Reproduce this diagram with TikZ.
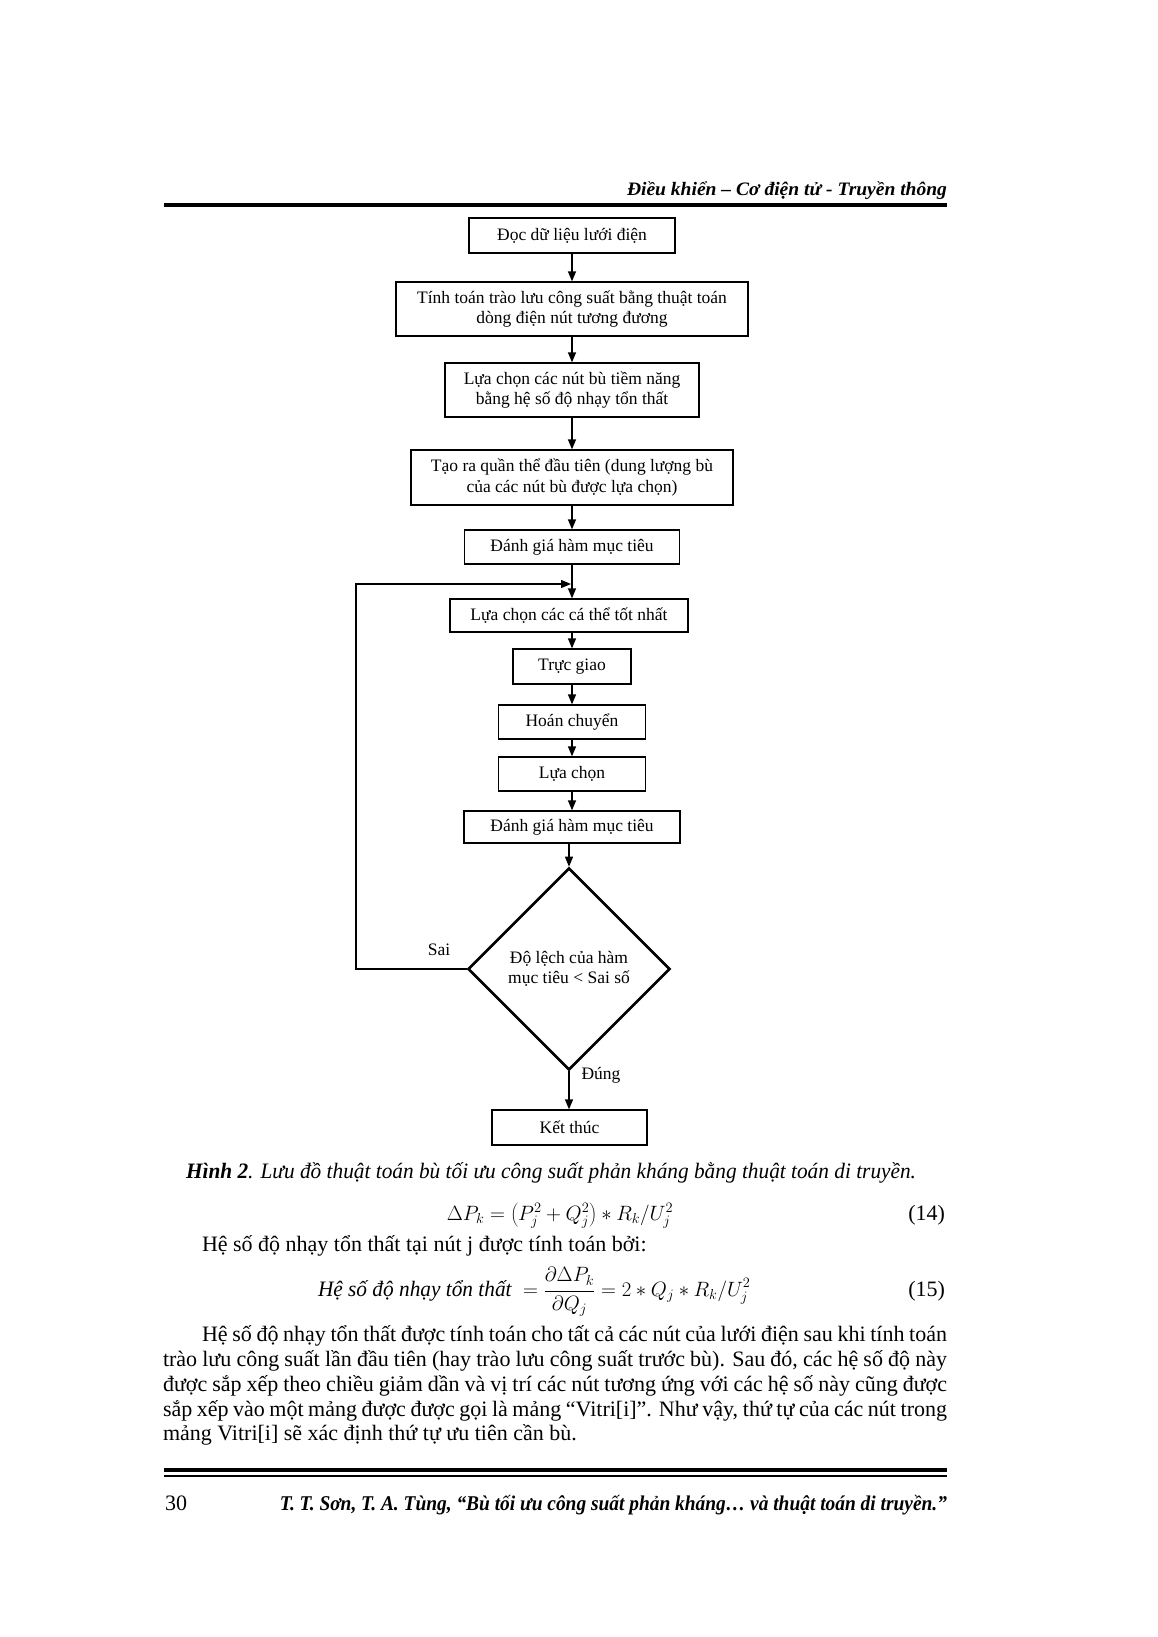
\documentclass[tikz,border=0pt]{standalone}
\usepackage{fontspec}
\setmainfont{Liberation Serif}
\usepackage{graphicx}
\usetikzlibrary{shapes.geometric,arrows.meta}
\newcommand{\flowfont}{\fontsize{17.5}{20.5}\selectfont}
\newcommand{\bodyfont}{\fontsize{22}{25}\selectfont}
\tikzset{
  fbox/.style={draw, line width=1.3pt, inner sep=0pt, align=center, font=\flowfont},
  arr/.style={line width=1.3pt, -{Triangle[length=10pt,width=8pt]}},
  txt/.style={inner sep=0pt, outer sep=0pt, font=\bodyfont},
  lbl/.style={inner sep=0pt, font=\flowfont}
}
\begin{document}
\begin{tikzpicture}[x=1pt,y=-1pt]
\useasboundingbox (0,0) rectangle (1157,1637);
\fill[white] (0,0) rectangle (1157,1637);

% header
\node[txt, anchor=base east] (head) at (947,196)
  {\resizebox{320pt}{\height}{\fontsize{19}{22}\selectfont\bfseries\itshape Điều khiển – Cơ điện tử - Truyền thông}};
\draw[line width=3.5pt] (164,205) -- (947,205);

% flowchart
\node[fbox, minimum width=206pt, minimum height=35pt] (b1) at (572,235.5) {Đọc dữ liệu lưới điện};
\node[fbox, minimum width=352pt, minimum height=54pt] (b2) at (572,309) {Tính toán trào lưu công suất bằng thuật toán\\dòng điện nút tương đương};
\node[fbox, minimum width=254pt, minimum height=54pt] (b3) at (572,390) {Lựa chọn các nút bù tiềm năng\\bằng hệ số độ nhạy tổn thất};
\node[fbox, minimum width=322pt, minimum height=55pt] (b4) at (572,477.5) {Tạo ra quần thể đầu tiên (dung lượng bù\\của các nút bù được lựa chọn)};
\node[fbox, minimum width=215pt, minimum height=34pt] (b5) at (572,547) {Đánh giá hàm mục tiêu};
\node[fbox, minimum width=238pt, minimum height=33pt] (b6) at (569,615.5) {Lựa chọn các cá thể tốt nhất};
\node[fbox, minimum width=118pt, minimum height=35pt] (b7) at (572,666.5) {Trực giao};
\node[fbox, minimum width=147pt, minimum height=34pt] (b8) at (572,722) {Hoán chuyển};
\node[fbox, minimum width=147pt, minimum height=34pt] (b9) at (572,774) {Lựa chọn};
\node[fbox, minimum width=216pt, minimum height=32pt] (b10) at (572,827) {Đánh giá hàm mục tiêu};
\node[draw, shape=diamond, aspect=1, line width=2.6pt, inner sep=0pt,
      minimum width=202pt, minimum height=202pt, align=center, font=\flowfont] (dia) at (569,969)
      {Độ lệch của hàm\\mục tiêu < Sai số};
\node[fbox, minimum width=155pt, minimum height=35pt] (b11) at (569.5,1127.5) {Kết thúc};

\draw[arr] (b1.south) -- (b2.north);
\draw[arr] (b2.south) -- (b3.north);
\draw[arr] (b3.south) -- (b4.north);
\draw[arr] (b4.south) -- (b5.north);
\draw[arr] (b5.south) -- (b5.south |- b6.north);
\draw[arr] (b6.south -| b7.north) -- (b7.north);
\draw[arr] (b7.south) -- (b8.north);
\draw[arr] (b8.south) -- (b9.north);
\draw[arr] (b9.south) -- (b10.north);
\draw[arr] (b10.south -| dia.north) -- (dia.north);
\draw[arr] (dia.south) -- (dia.south |- b11.north);

\coordinate (fbx) at (356,0);
\coordinate (fb) at (571,584);
\draw[arr] (dia.west) -- (dia.west -| fbx) -- (fbx |- fb) -- (fb);

\node[lbl] (sai) at (439,950) {Sai};
\node[lbl] (dung) at (601,1075) {Đúng};

% caption
\node[txt, anchor=base west] (cap) at (186,1178)
  {\resizebox{730pt}{\height}{\bodyfont\textbf{\textit{Hình 2}}\textit{. Lưu đồ thuật toán bù tối ưu công suất phản kháng bằng thuật toán di truyền.}}};

% equation 14
\node[txt, anchor=base] (eq14) at (560,1220) {$\Delta P_k = \left(P_j^2 + Q_j^2\right) * R_k / U_j^2$};
\node[txt, anchor=base east] (n14) at (945,1220) {(14)};

\node[txt, anchor=base west] (intro) at (202,1251) {Hệ số độ nhạy tổn thất tại nút j được tính toán bởi:};

% equation 15
\node[txt, anchor=base west] (eq15a) at (318,1296) {\resizebox{194pt}{\height}{\bodyfont\textit{Hệ số độ nhạy tổn thất}}};
\node[txt, anchor=base west] (eq15b) at (523,1296) {$= \displaystyle\frac{\partial \Delta P_k}{\partial Q_j} = 2 * Q_j * R_k / U_j^2$};
\node[txt, anchor=base east] (n15) at (945,1296) {(15)};

% paragraph
\node[txt, anchor=base west] (p1) at (202,1341) {\makebox[745pt][s]{Hệ số độ nhạy tổn thất được tính toán cho tất cả các nút của lưới điện sau khi tính toán}};
\node[txt, anchor=base west] (p2) at (163,1366) {\makebox[784pt][s]{trào lưu công suất lần đầu tiên (hay trào lưu công suất trước bù). Sau đó, các hệ số độ này}};
\node[txt, anchor=base west] (p3) at (163,1391) {\makebox[784pt][s]{được sắp xếp theo chiều giảm dần và vị trí các nút tương ứng với các hệ số này cũng được}};
\node[txt, anchor=base west] (p4) at (163,1416) {\makebox[784pt][s]{sắp xếp vào một mảng được được gọi là mảng “Vitri[i]”. Như vậy, thứ tự của các nút trong}};
\node[txt, anchor=base west] (p5) at (163,1440) {mảng Vitri[i] sẽ xác định thứ tự ưu tiên cần bù.};

% footer
\draw[line width=3.5pt] (164,1470) -- (947,1470);
\draw[line width=1.3pt] (164,1476) -- (947,1476);
\node[txt, anchor=base west] (pg) at (165,1510) {30};
\node[txt, anchor=base east] (foot) at (947,1510)
  {\resizebox{667pt}{\height}{\fontsize{21}{24}\selectfont\bfseries\itshape T. T. Sơn, T. A. Tùng, “Bù tối ưu công suất phản kháng… và thuật toán di truyền.”}};
\end{tikzpicture}
\end{document}
